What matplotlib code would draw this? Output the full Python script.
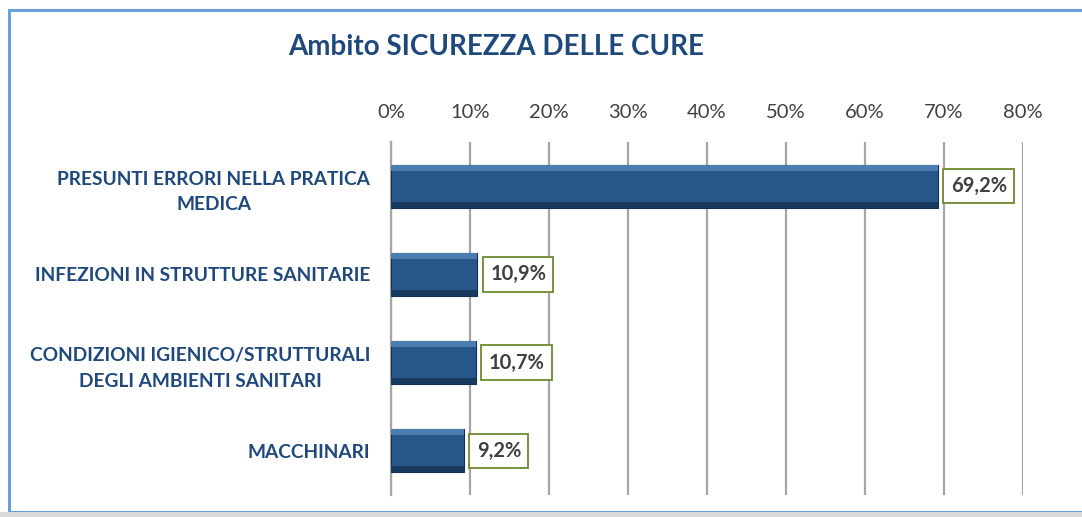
import matplotlib.pyplot as plt
from matplotlib.patches import Rectangle
import numpy as np

plt.rcParams['font.family'] = ['Lato', 'DejaVu Sans']

# data
categorie = ['PRESUNTI ERRORI NELLA PRATICA\nMEDICA',
             'INFEZIONI IN STRUTTURE SANITARIE',
             'CONDIZIONI IGIENICO/STRUTTURALI\nDEGLI AMBIENTI SANITARI',
             'MACCHINARI']
valori = [69.2, 10.9, 10.7, 9.2]
etichette = ['69,2%', '10,9%', '10,7%', '9,2%']
ticks = [0, 10, 20, 30, 40, 50, 60, 70, 80]

blu_barra = '#27578A'
blu_testo = '#1F497D'
grigio = '#A6A6A6'

fig = plt.figure(figsize=(10.82, 5.17), dpi=100)
ax = fig.add_axes([0.3614, 0.0426, 0.5841, 0.6827])

y = np.arange(len(categorie))
h = 0.49

# bars with a rough bevel look
ax.barh(y, valori, height=h, color=blu_barra, edgecolor='#14304F', linewidth=0.8, zorder=3)
ax.barh(y - h/2 + h*0.07, valori, height=h*0.14, color='#4C7DB0', linewidth=0, zorder=4)
ax.barh(y + h/2 - h*0.07, valori, height=h*0.14, color='#183A5E', linewidth=0, zorder=4)

for yi, v, lab in zip(y, valori, etichette):
    ax.text(v + 1.65, yi, lab, ha='left', va='center', fontsize=14.5, fontweight='bold',
            color='#404040', zorder=5,
            bbox=dict(boxstyle='square,pad=0.36', fc='white', ec='#77933C', lw=1.4))

ax.set_xlim(0, 80)
ax.set_ylim(len(categorie) - 0.5, -0.5)
ax.set_xticks(ticks)
ax.set_xticklabels([f'{t}%' for t in ticks], fontsize=14.5, color='#404040')
ax.xaxis.tick_top()
ax.tick_params(axis='x', length=0, pad=15)
ax.tick_params(axis='y', length=0, pad=15)
ax.set_yticks(y)
ax.set_yticklabels(categorie, fontsize=13.8, fontweight='bold', color=blu_testo,
                   multialignment='center', linespacing=1.6)
ax.grid(axis='x', color=grigio, linewidth=1.6, zorder=0)
for s in ['top', 'right', 'bottom']:
    ax.spines[s].set_visible(False)
ax.spines['left'].set_color(grigio)
ax.spines['left'].set_linewidth(1.6)

fig.text(0.459, 0.909, 'Ambito SICUREZZA DELLE CURE', ha='center', va='center',
         fontsize=20, fontweight='bold', color=blu_testo)

# outer frame
fig.patches.append(Rectangle((9/1082, 5/517), 1.1, 1 - 15/517, transform=fig.transFigure,
                             fill=False, ec='#6A9FD8', lw=2.2, zorder=0))
fig.patches.append(Rectangle((0, 0), 1, 5/517, transform=fig.transFigure,
                             fc='#D9D9D9', ec='none', zorder=1))

fig.savefig('out.png', dpi=100)
